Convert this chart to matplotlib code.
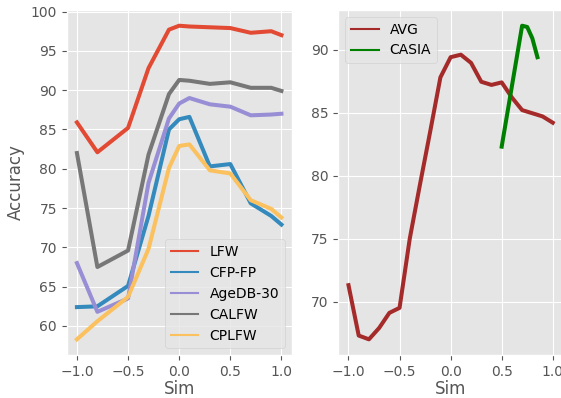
import matplotlib
matplotlib.use("Agg")
import matplotlib.pyplot as plt

plt.style.use("ggplot")

sim = [-1.0, -0.8, -0.5, -0.3, -0.1, 0.0, 0.1, 0.3, 0.5, 0.7, 0.9, 1.0]
lfw = [85.9, 82.1, 85.2, 92.8, 97.7, 98.2, 98.1, 98.0, 97.9, 97.3, 97.5, 97.0]
cfp_fp = [62.4, 62.5, 65.1, 74.0, 85.0, 86.3, 86.6, 80.3, 80.6, 75.6, 74.0, 72.9]
agedb30 = [68.0, 61.8, 63.5, 78.2, 86.4, 88.3, 89.0, 88.2, 87.9, 86.8, 86.9, 87.0]
calfw = [82.0, 67.5, 69.6, 81.8, 89.5, 91.3, 91.2, 90.8, 91.0, 90.3, 90.3, 89.9]
cplfw = [58.3, 60.6, 63.7, 69.8, 80.1, 82.9, 83.1, 79.8, 79.4, 76.0, 74.9, 73.8]

sim_avg = [-1.0, -0.9, -0.8, -0.7, -0.6, -0.5, -0.4, -0.3, -0.2, -0.1,
           0.0, 0.1, 0.2, 0.3, 0.4, 0.5, 0.6, 0.7, 0.8, 0.9, 1.0]
avg = [71.3, 67.3, 67.0, 67.9, 69.1, 69.5, 75.0, 79.3, 83.5, 87.8,
       89.4, 89.6, 88.95, 87.45, 87.2, 87.4, 86.2, 85.2, 84.95, 84.7, 84.2]

sim_casia = [0.5, 0.7, 0.75, 0.8, 0.85]
casia = [82.3, 91.9, 91.8, 90.9, 89.4]

fig = plt.figure(figsize=(5.61, 3.98), dpi=100)
ax1 = fig.add_axes([0.1189, 0.108, 0.401, 0.8668])
ax2 = fig.add_axes([0.603, 0.108, 0.4005, 0.8668])

lw = 2.9
series = [("LFW", lfw, "#E24A33"), ("CFP-FP", cfp_fp, "#348ABD"),
          ("AgeDB-30", agedb30, "#988ED5"), ("CALFW", calfw, "#777777"),
          ("CPLFW", cplfw, "#FBC15E")]
for name, vals, c in series:
    ax1.plot(sim, vals, color=c, lw=lw, label=name)
ax1.set_xlabel("Sim", fontsize=12, labelpad=1)
ax1.set_ylabel("Accuracy", fontsize=12)
ax1.set_xticks([-1.0, -0.5, 0.0, 0.5, 1.0])
ax1.set_yticks([60, 65, 70, 75, 80, 85, 90, 95, 100])
leg1 = ax1.legend(loc="lower right", fontsize=10)
for h in leg1.get_lines():
    h.set_linewidth(1.5)

ax2.plot(sim_avg, avg, color="#A52A2A", lw=lw, label="AVG")
ax2.plot(sim_casia, casia, color="green", lw=lw, label="CASIA")
ax2.set_xlabel("Sim", fontsize=12, labelpad=1)
ax2.set_xticks([-1.0, -0.5, 0.0, 0.5, 1.0])
ax2.set_yticks([70, 75, 80, 85, 90])
leg2 = ax2.legend(loc="upper left", fontsize=10)
for h in leg2.get_lines():
    h.set_linewidth(1.5)

for ax in (ax1, ax2):
    ax.tick_params(labelsize=10)

fig.savefig("out.png", dpi=100)
